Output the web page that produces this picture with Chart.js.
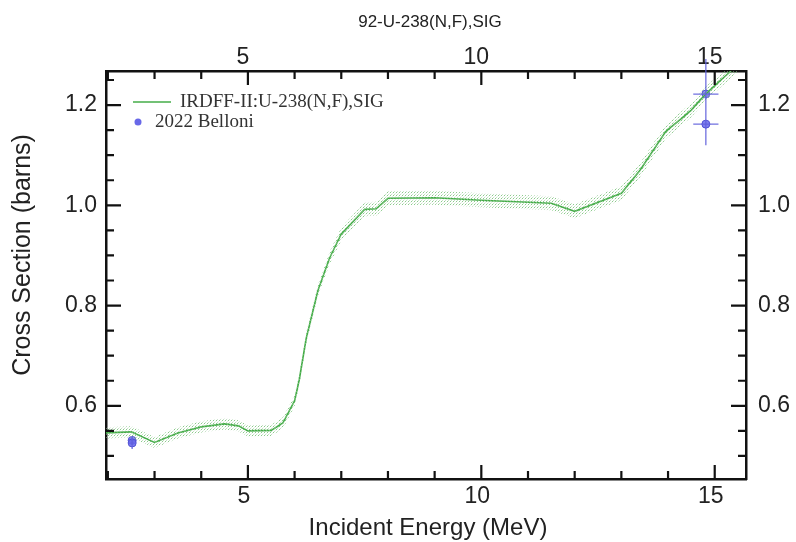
<!DOCTYPE html>
<html>
<head>
<meta charset="utf-8">
<script src="https://cdn.jsdelivr.net/npm/chart.js@4.4.1/dist/chart.umd.min.js"></script>
<style>
    html, body { margin: 0; padding: 0; background: #fff; }
    #wrap { width: 796px; height: 542px; }
</style>
</head>
<body>
<div id="wrap"><canvas id="xsChart" width="796" height="542"></canvas></div>
<script>
// evaluated curve: incident energy (MeV) / cross section (b) / 1-sigma band (b)
const energy = [1.96, 2.5, 3.0, 3.5, 4.0, 4.5, 4.8, 5.0, 5.5, 5.75, 6.0, 6.1, 6.25, 6.5, 6.75, 7.0, 7.5, 7.75, 8.0, 9.0, 10.0, 11.5, 12.0, 13.0, 13.4, 13.95, 14.5, 14.8, 15.3, 15.7];
const sigma = [0.546, 0.548, 0.527, 0.546, 0.558, 0.564, 0.560, 0.550, 0.551, 0.566, 0.610, 0.652, 0.735, 0.830, 0.895, 0.943, 0.992, 0.993, 1.014, 1.015, 1.010, 1.004, 0.988, 1.024, 1.070, 1.147, 1.190, 1.222, 1.264, 1.300];
const sigmaUnc = [0.011, 0.011, 0.011, 0.011, 0.011, 0.011, 0.011, 0.011, 0.011, 0.011, 0.011, 0.011, 0.011, 0.011, 0.012, 0.013, 0.014, 0.014, 0.014, 0.014, 0.014, 0.014, 0.014, 0.014, 0.014, 0.014, 0.014, 0.014, 0.014, 0.014];

// 2022 Belloni measurement
const bellEnergy = [2.52, 2.52, 14.81, 14.81];
const bellSigma = [0.531, 0.526, 1.222, 1.162];
const bellEnergyErr = [0.03, 0.03, 0.27, 0.27];
const bellSigmaErr = [0.008, 0.012, 0.07, 0.042];

const xTickValues = [5, 10, 15];
const yTickValues = [0.6, 0.8, 1.0, 1.2];

const curveLabel = 'IRDFF-II:U-238(N,F),SIG';
const expLabel = '2022 Belloni';
const titleText = '92-U-238(N,F),SIG';
const xTitle = 'Incident Energy (MeV)';
const yTitle = 'Cross Section (barns)';

const SANS = "'Liberation Sans', Arial, sans-serif";
const SERIF = "'Liberation Serif', 'Times New Roman', serif";
const GREEN = 'rgb(68,172,72)';
const BLUE = 'rgb(104,104,232)';

// stippled fill for the uncertainty band
function makeDotPattern() {
    const c = document.createElement('canvas');
    c.width = 3; c.height = 3;
    const g = c.getContext('2d');
    g.fillStyle = 'rgba(110,190,110,0.8)';
    g.fillRect(0, 0, 1, 1);
    g.fillStyle = 'rgba(150,200,150,0.55)';
    g.fillRect(1, 2, 1, 1);
    g.fillStyle = 'rgba(190,220,190,0.4)';
    g.fillRect(2, 1, 1, 1);
    return g.createPattern(c, 'repeat');
}

const pts = (xs, ys) => xs.map((x, i) => ({ x: x, y: ys[i] }));
const upper = sigma.map((s, i) => s + sigmaUnc[i]);
const lower = sigma.map((s, i) => s - sigmaUnc[i]);

// inward tick marks on all four sides, plus titles and legend
const frameTicks = {
    id: 'frameTicks',
    afterDraw(chart) {
        const { ctx, chartArea: a, scales } = chart;
        const xs = scales.x, ys = scales.y;
        ctx.save();
        ctx.strokeStyle = '#111';
        ctx.lineWidth = 2.2;
        ctx.beginPath();
        for (let e = 2; e <= 15; e++) {
            const px = xs.getPixelForValue(e);
            const len = e % 5 === 0 ? 14 : 8;
            ctx.moveTo(px, a.bottom); ctx.lineTo(px, a.bottom - len);
            ctx.moveTo(px, a.top); ctx.lineTo(px, a.top + len);
        }
        for (let k = 10; k <= 25; k++) {
            const v = k * 0.05;
            const py = ys.getPixelForValue(v);
            if (py < a.top || py > a.bottom) continue;
            const len = k % 4 === 0 ? 15 : 8;
            ctx.moveTo(a.left, py); ctx.lineTo(a.left + len, py);
            ctx.moveTo(a.right, py); ctx.lineTo(a.right - len, py);
        }
        ctx.stroke();

        // titles
        ctx.fillStyle = '#222';
        ctx.textAlign = 'center';
        ctx.textBaseline = 'middle';
        ctx.font = '17px ' + SANS;
        ctx.fillText(titleText, 430, 22);
        ctx.font = '24px ' + SANS;
        ctx.fillText(xTitle, 428, 528);
        ctx.save();
        ctx.translate(23, 255);
        ctx.rotate(-Math.PI / 2);
        ctx.font = '25px ' + SANS;
        ctx.fillText(yTitle, 0, 0);
        ctx.restore();

        // legend
        ctx.textAlign = 'left';
        ctx.font = '19px ' + SERIF;
        ctx.fillStyle = '#333';
        ctx.strokeStyle = GREEN;
        ctx.lineWidth = 1.5;
        ctx.beginPath();
        ctx.moveTo(133, 102); ctx.lineTo(171, 102);
        ctx.stroke();
        ctx.fillText(curveLabel, 180, 102);
        ctx.beginPath();
        ctx.arc(138, 122, 3.5, 0, Math.PI * 2);
        ctx.fillStyle = BLUE;
        ctx.fill();
        ctx.fillStyle = '#333';
        ctx.fillText(expLabel, 155, 122);
        ctx.restore();
    }
};

// error bars for the measured points
const errorBars = {
    id: 'errorBars',
    afterDatasetsDraw(chart) {
        const { ctx, scales } = chart;
        const xs = scales.x, ys = scales.y;
        ctx.save();
        ctx.strokeStyle = 'rgba(96,96,220,0.9)';
        ctx.lineWidth = 1.3;
        ctx.beginPath();
        bellEnergy.forEach((e, i) => {
            const px = xs.getPixelForValue(e);
            const py = ys.getPixelForValue(bellSigma[i]);
            ctx.moveTo(px, ys.getPixelForValue(bellSigma[i] - bellSigmaErr[i]));
            ctx.lineTo(px, ys.getPixelForValue(bellSigma[i] + bellSigmaErr[i]));
            ctx.moveTo(xs.getPixelForValue(e - bellEnergyErr[i]), py);
            ctx.lineTo(xs.getPixelForValue(e + bellEnergyErr[i]), py);
        });
        ctx.stroke();
        ctx.restore();
    }
};

const fixedAxis = (size, vertical) => function(scale) {
    if (vertical) scale.width = size; else scale.height = size;
};

const tickFont = { family: SANS, size: 23 };

const ctx = document.getElementById('xsChart').getContext('2d');
const chart = new Chart(ctx, {
    type: 'scatter',
    data: {
        datasets: [
            {
                label: 'upper',
                data: pts(energy, upper),
                showLine: true,
                borderWidth: 0,
                pointRadius: 0,
                backgroundColor: makeDotPattern(),
                fill: '+1'
            },
            {
                label: 'lower',
                data: pts(energy, lower),
                showLine: true,
                borderWidth: 0,
                pointRadius: 0,
                fill: false
            },
            {
                label: curveLabel,
                data: pts(energy, sigma),
                showLine: true,
                borderColor: GREEN,
                borderWidth: 1.6,
                pointRadius: 0,
                fill: false
            },
            {
                label: expLabel,
                data: pts(bellEnergy, bellSigma),
                showLine: false,
                pointRadius: 4,
                pointBackgroundColor: 'rgba(104,104,236,0.85)',
                pointBorderColor: 'rgb(80,80,210)',
                pointBorderWidth: 1,
                clip: false
            }
        ]
    },
    options: {
        responsive: false,
        animation: false,
        layout: { padding: 0 },
        plugins: {
            legend: { display: false },
            title: { display: false },
            tooltip: { enabled: false }
        },
        scales: {
            x: {
                type: 'linear',
                position: 'bottom',
                min: 1.96,
                max: 15.67,
                afterFit: fixedAxis(63, false),
                afterBuildTicks: s => { s.ticks = xTickValues.map(v => ({ value: v })); },
                grid: { display: false, drawTicks: false },
                border: { display: true, color: '#111', width: 2.5 },
                ticks: { font: tickFont, color: '#222', padding: 4, labelOffset: -4, maxRotation: 0 }
            },
            x2: {
                type: 'linear',
                position: 'top',
                min: 1.96,
                max: 15.67,
                afterFit: fixedAxis(71, false),
                afterBuildTicks: s => { s.ticks = xTickValues.map(v => ({ value: v })); },
                grid: { display: false, drawTicks: false },
                border: { display: true, color: '#111', width: 2.5 },
                ticks: { font: tickFont, color: '#222', padding: 0, labelOffset: -5, maxRotation: 0 }
            },
            y: {
                type: 'linear',
                position: 'left',
                min: 0.454,
                max: 1.268,
                afterFit: fixedAxis(106, true),
                afterBuildTicks: s => { s.ticks = yTickValues.map(v => ({ value: v })); },
                grid: { display: false, drawTicks: false },
                border: { display: true, color: '#111', width: 2.5 },
                ticks: { font: tickFont, color: '#222', padding: 9, callback: v => v.toFixed(1) }
            },
            y2: {
                type: 'linear',
                position: 'right',
                min: 0.454,
                max: 1.268,
                afterFit: fixedAxis(50, true),
                afterBuildTicks: s => { s.ticks = yTickValues.map(v => ({ value: v })); },
                grid: { display: false, drawTicks: false },
                border: { display: true, color: '#111', width: 2.5 },
                ticks: { font: tickFont, color: '#222', padding: 12, callback: v => v.toFixed(1) }
            }
        }
    },
    plugins: [frameTicks, errorBars]
});
</script>
</body>
</html>
